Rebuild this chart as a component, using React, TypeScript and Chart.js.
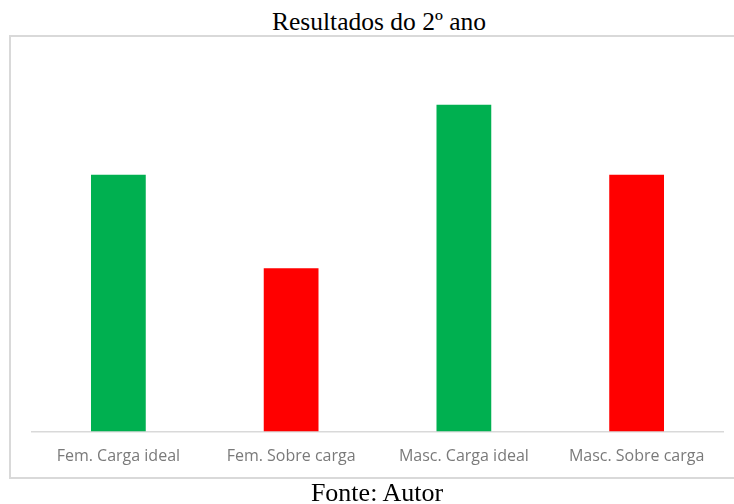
import React, { useEffect, useRef } from "react";
import { Chart, registerables } from "chart.js";

Chart.register(...registerables);

const categories = ["Fem. Carga ideal", "Fem. Sobre carga", "Masc. Carga ideal", "Masc. Sobre carga"];
const values = [11, 7, 14, 11];
const barColors = ["#00B050", "#FF0000", "#00B050", "#FF0000"];
const titleText = "Resultados do 2º ano";
const sourceText = "Fonte: Autor";

export default function App() {
  const canvasRef = useRef<HTMLCanvasElement | null>(null);

  useEffect(() => {
    if (!canvasRef.current) return;
    const chart = new Chart(canvasRef.current, {
      type: "bar",
      data: {
        labels: categories,
        datasets: [
          {
            data: values,
            backgroundColor: barColors,
            borderWidth: 0,
            categoryPercentage: 1,
            barPercentage: 0.317,
          },
        ],
      },
      options: {
        animation: false,
        responsive: false,
        maintainAspectRatio: false,
        layout: { padding: { left: 32, right: 11, top: 58, bottom: 22.4 } },
        plugins: {
          legend: { display: false },
          tooltip: { enabled: false },
          title: { display: false },
        },
        scales: {
          x: {
            grid: { display: false, drawTicks: false },
            border: { display: true, color: "#d9d9d9", width: 1.5 },
            ticks: {
              color: "#7a7a7a",
              font: { family: "'Open Sans', sans-serif", size: 16 },
              padding: 15.4,
              maxRotation: 0,
              autoSkip: false,
            },
          },
          y: {
            display: false,
            min: 0,
            max: 16,
          },
        },
      },
    });
    return () => chart.destroy();
  }, []);

  return (
    <div style={{ position: "fixed", left: 0, top: 0, width: 734, height: 504, background: "#fff", overflow: "hidden" }}>
      <div
        style={{
          position: "absolute",
          left: 9,
          top: 35,
          width: 740,
          height: 444,
          boxSizing: "border-box",
          border: "2px solid #d9d9d9",
        }}
      />
      <div
        style={{
          position: "absolute",
          left: 0,
          top: 7,
          width: 758,
          textAlign: "center",
          fontFamily: "'Liberation Serif', 'Times New Roman', serif",
          fontSize: 25.5,
          lineHeight: "30px",
          color: "#000",
        }}
      >
        {titleText}
      </div>
      <canvas ref={canvasRef} width={734} height={504} style={{ position: "absolute", left: 0, top: 0 }} />
      <div
        style={{
          position: "absolute",
          left: 0,
          top: 478,
          width: 754,
          textAlign: "center",
          fontFamily: "'Liberation Serif', 'Times New Roman', serif",
          fontSize: 26,
          lineHeight: "30px",
          color: "#000",
        }}
      >
        {sourceText}
      </div>
    </div>
  );
}
